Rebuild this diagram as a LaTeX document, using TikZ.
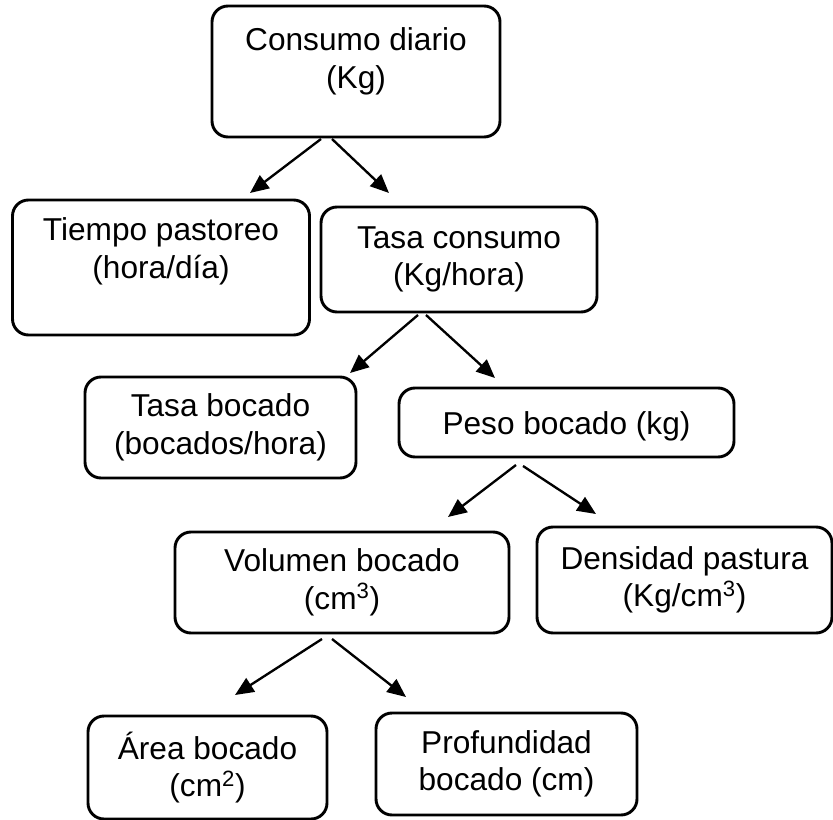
\documentclass[tikz,border=0pt]{standalone}
\usepackage{fontspec}
\setmainfont{Liberation Sans}
\usetikzlibrary{arrows.meta}
\begin{document}
\begin{tikzpicture}[x=0.03cm,y=-0.03cm,
  box/.style={draw, line width=2.5pt, rounded corners=0.48cm, align=center,
    font=\fontsize{27}{32}\selectfont, inner sep=0pt,
    execute at begin node={\rule{0pt}{26pt}}},
  arr/.style={-{Triangle[length=0.56cm,width=0.48cm]}, line width=2pt}]
\path[use as bounding box, fill=white] (0,0) rectangle (833,820);

\node[box, minimum width=288*0.03cm, minimum height=131*0.03cm] (consumo) at (356,71.5)
  {Consumo diario\\(Kg)\rule[-23pt]{0pt}{23pt}};
\node[box, minimum width=297*0.03cm, minimum height=135*0.03cm] (tiempo) at (161,267.5)
  {Tiempo pastoreo\\(hora/día)\rule[-33pt]{0pt}{33pt}};
\node[box, minimum width=276*0.03cm, minimum height=105*0.03cm] (tasacons) at (459,259.5)
  {Tasa consumo\\(Kg/hora)};
\node[box, minimum width=271*0.03cm, minimum height=101*0.03cm] (tasaboc) at (220.5,427.5)
  {Tasa bocado\\(bocados/hora)};
\node[box, minimum width=335*0.03cm, minimum height=69*0.03cm] (peso) at (566.5,422.5)
  {Peso bocado (kg)};
\node[box, minimum width=334*0.03cm, minimum height=101*0.03cm] (volumen) at (342,582.5)
  {Volumen bocado\\(cm\textsuperscript{3})};
\node[box, minimum width=295*0.03cm, minimum height=106*0.03cm] (densidad) at (684.5,580)
  {Densidad pastura\\(Kg/cm\textsuperscript{3})};
\node[box, minimum width=239*0.03cm, minimum height=103*0.03cm] (area) at (207.5,767.5)
  {Área bocado\\(cm\textsuperscript{2})};
\node[box, minimum width=261*0.03cm, minimum height=102*0.03cm] (profund) at (506.5,764)
  {Profundidad\\bocado (cm)};

% arrow end points (arrows float between boxes)
\coordinate (c1a) at (321,139); \coordinate (c1b) at (250,193);
\coordinate (c2a) at (332,139); \coordinate (c2b) at (389,193);
\coordinate (c3a) at (418,315); \coordinate (c3b) at (350,373);
\coordinate (c4a) at (426,315); \coordinate (c4b) at (495,378);
\coordinate (c5a) at (516,465); \coordinate (c5b) at (448,517);
\coordinate (c6a) at (523,466); \coordinate (c6b) at (596,514);
\coordinate (c7a) at (322,639); \coordinate (c7b) at (235,695);
\coordinate (c8a) at (332,639); \coordinate (c8b) at (406,697);

\draw[arr] (c1a) -- (c1b);
\draw[arr] (c2a) -- (c2b);
\draw[arr] (c3a) -- (c3b);
\draw[arr] (c4a) -- (c4b);
\draw[arr] (c5a) -- (c5b);
\draw[arr] (c6a) -- (c6b);
\draw[arr] (c7a) -- (c7b);
\draw[arr] (c8a) -- (c8b);
\end{tikzpicture}
\end{document}
